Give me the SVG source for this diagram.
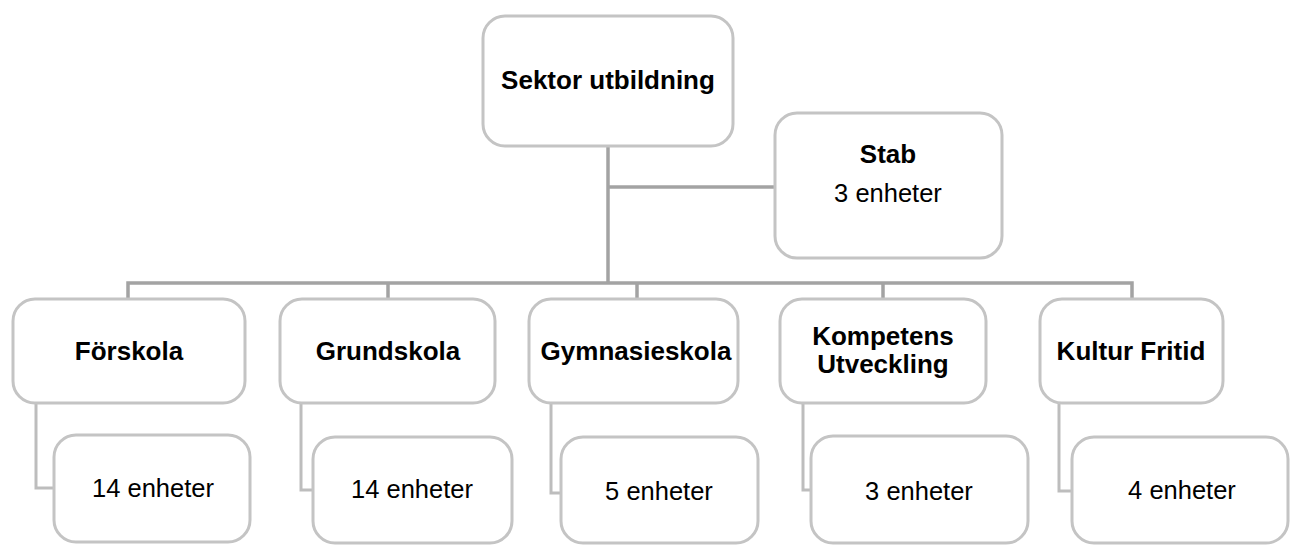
<svg xmlns="http://www.w3.org/2000/svg" width="1290" height="545" viewBox="0 0 1290 545">
<style>
.box{fill:#ffffff;stroke:#c4c4c4;stroke-width:3}
.main{fill:none;stroke:#a3a3a3;stroke-width:3.5}
.sub{fill:none;stroke:#bdbdbd;stroke-width:3}
.b{font-family:"Liberation Sans",Arial,sans-serif;font-weight:bold;font-size:26px;fill:#000;text-anchor:middle}
.r{font-family:"Liberation Sans",Arial,sans-serif;font-size:25.5px;fill:#000;text-anchor:middle}
</style>
<rect width="1290" height="545" fill="#ffffff"/>
<g id="connectors">
<path class="main" d="M608,146 V283"/>
<path class="main" d="M608,187 H775"/>
<path class="main" d="M128,299 V283 H1132 V299"/>
<path class="main" d="M388,283 V299"/>
<path class="main" d="M637,283 V299"/>
<path class="main" d="M883,283 V299"/>
<path class="sub" d="M36,403 V488 H54"/>
<path class="sub" d="M301,403 V490 H313"/>
<path class="sub" d="M551,403 V493 H561"/>
<path class="sub" d="M803,403 V490 H811"/>
<path class="sub" d="M1059,403 V491 H1072"/>
</g>
<g id="sektor">
<rect class="box" x="483" y="16" width="250" height="130" rx="22"/>
<text class="b" x="608" y="89">Sektor utbildning</text>
</g>
<g id="stab">
<rect class="box" x="775" y="113" width="227" height="145" rx="22"/>
<text class="b" x="888" y="163">Stab</text>
<text class="r" x="888" y="202">3 enheter</text>
</g>
<g id="forskola">
<rect class="box" x="13" y="299" width="232" height="104" rx="22"/>
<text class="b" x="129" y="360">Förskola</text>
</g>
<g id="forskola-enheter">
<rect class="box" x="54" y="435" width="196" height="107" rx="22"/>
<text class="r" x="153" y="497">14 enheter</text>
</g>
<g id="grundskola">
<rect class="box" x="280" y="299" width="215" height="104" rx="22"/>
<text class="b" x="388" y="360">Grundskola</text>
</g>
<g id="grundskola-enheter">
<rect class="box" x="313" y="437" width="199" height="106" rx="22"/>
<text class="r" x="412" y="498">14 enheter</text>
</g>
<g id="gymnasieskola">
<rect class="box" x="529" y="299" width="209" height="104" rx="22"/>
<text class="b" x="636" y="360">Gymnasieskola</text>
</g>
<g id="gymnasieskola-enheter">
<rect class="box" x="561" y="437" width="197" height="106" rx="22"/>
<text class="r" x="659" y="500">5 enheter</text>
</g>
<g id="kompetens">
<rect class="box" x="780" y="299" width="206" height="104" rx="22"/>
<text class="b" x="883" y="345">Kompetens</text>
<text class="b" x="883" y="373">Utveckling</text>
</g>
<g id="kompetens-enheter">
<rect class="box" x="811" y="436" width="217" height="107" rx="22"/>
<text class="r" x="919" y="500">3 enheter</text>
</g>
<g id="kultur">
<rect class="box" x="1040" y="299" width="183" height="104" rx="22"/>
<text class="b" x="1131" y="360">Kultur Fritid</text>
</g>
<g id="kultur-enheter">
<rect class="box" x="1072" y="437" width="216" height="106" rx="22"/>
<text class="r" x="1182" y="499">4 enheter</text>
</g>
</svg>
